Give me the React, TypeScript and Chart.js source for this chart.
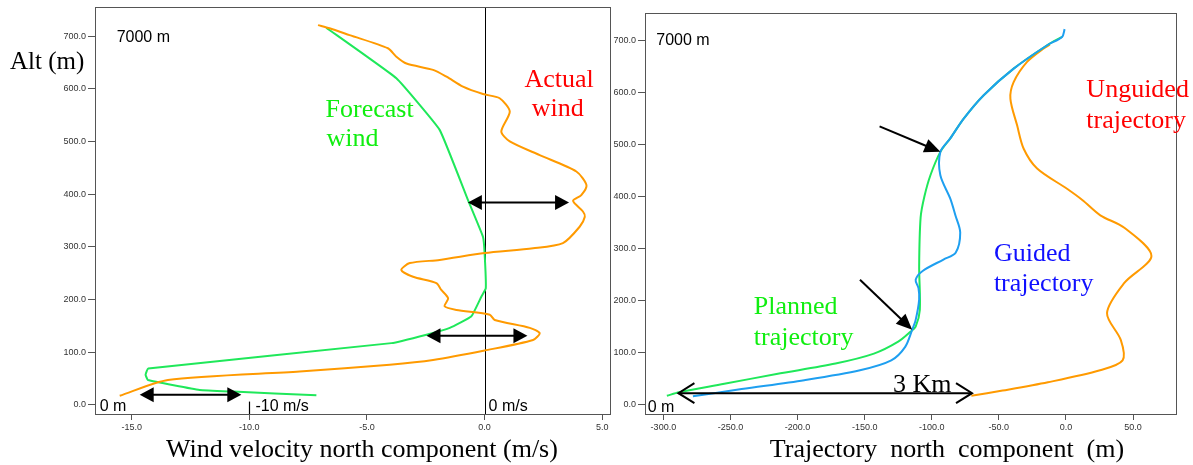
import React, { useEffect, useRef } from "react";
import { Chart, registerables } from "chart.js";

Chart.register(...registerables);

// ---------- data ----------
const ALT_TICKS = [0, 100, 200, 300, 400, 500, 600, 700];
const WIND_X_TICKS = [-15, -10, -5, 0, 5];
const TRAJ_X_TICKS = [-300, -250, -200, -150, -100, -50, 0, 50];

const ACTUAL_WIND_V = [-7.08, -6.59, -5.74, -4.11, -3.75, -3.32, -2.19, -1.62, -0.92, -0.07, 0.64, 1.07, 0.71, 1.07, 2.34, 3.9, 4.33, 4.11, 3.76, 4.18, 4.26, 4.04, 3.33, 2.06, 0.0, -1.91, -3.18, -3.54, -3.04, -2.05, -1.84, -1.55, -1.7, -1.2, 0.22, 0.43, 1.92, 2.34, 2.06, 0.0, -2.19, -4.03, -7.86, -13.46, -15.51];
const ACTUAL_WIND_ALT = [721, 715, 702, 677, 661, 648, 636, 623, 604, 590, 582, 557, 519, 500, 474, 443, 417, 398, 387, 367, 357, 338, 307, 297, 288, 275, 269, 256, 243, 231, 218, 202, 187, 180, 171, 161, 146, 136, 123, 103, 85, 76, 63, 47, 17];

const FORECAST_WIND_V = [-6.73, -3.75, -1.91, -0.71, -0.07, 0.0, 0.05, -0.14, -0.56, -1.48, -2.47, -3.96, -14.3, -14.41, -14.31, -12.11, -10.7, -7.15];
const FORECAST_WIND_ALT = [716, 620, 522, 389, 319, 288, 221, 205, 168, 146, 133, 117, 69, 57, 47, 28, 25, 18];

const PLANNED_N = [-2.9, -14, -39, -61.3, -76.2, -86.2, -93.6, -101, -105.5, -108.3, -109.4, -108.9, -112, -115.9, -125, -143.1, -171.7, -215.7, -254.6, -288.3, -297.4];
const PLANNED_ALT = [707, 691, 646, 595, 550, 512, 486, 441, 400, 360, 266, 182, 150, 140, 121, 98, 79, 59, 40, 24, 17];

const GUIDED_N = [-1, -2.9, -14, -39, -61.3, -76.2, -86.2, -93.6, -93.6, -86.2, -82.4, -78.8, -82.2, -91.3, -106.8, -112, -109.9, -109.4, -112, -114.6, -119.8, -130.2, -153.5, -195, -241.7, -278];
const GUIDED_ALT = [722, 707, 691, 646, 595, 550, 512, 486, 441, 396, 364, 331, 292, 279, 257, 240, 224, 202, 163, 144, 111, 85, 66, 47, 30, 16];

const UNGUIDED_N = [-12, -16.6, -29, -39, -41.4, -36.4, -31.5, -21.5, 0.8, 12.4, 25.6, 43.5, 63.7, 43.5, 30.6, 40.9, 42.2, 25.4, -13.5, -47.2, -70.5];
const UNGUIDED_ALT = [692, 685, 659, 620, 588, 537, 492, 454, 415, 393, 364, 340, 286, 234, 176, 124, 85, 66, 43, 27, 17];

// annotation arrows (data units)
const WIND_ARROW_FROM = [-0.71, -2.47, -14.66];
const WIND_ARROW_TO = [3.59, 1.82, -10.34];
const WIND_ARROW_ALT = [384, 131, 19];
const TRAJ_POINTER_FROM_N = [-138.9, -153.5];
const TRAJ_POINTER_FROM_ALT = [535, 240];
const TRAJ_POINTER_TO_N = [-93.6, -114.6];
const TRAJ_POINTER_TO_ALT = [486, 144];
const TRAJ_SPAN_N = [-288.8, -70];
const TRAJ_SPAN_ALT = 22;

// ---------- styles ----------
const ORANGE = "#ff9a00";
const GREEN = "#1fe85a";
const BLUE = "#1e9ff0";
const SERIF = "'Liberation Serif', 'Times New Roman', serif";
const SANS = "'Liberation Sans', Arial, sans-serif";
const W = 1193;
const H = 465;

type Txt = { t: string; x: number; y: number; color: string; font: string; align?: CanvasTextAlign };

function arrowHead(ctx: CanvasRenderingContext2D, tx: number, ty: number, fx: number, fy: number, len: number, half: number, filled: boolean) {
  const a = Math.atan2(ty - fy, tx - fx);
  const bx = tx - len * Math.cos(a);
  const by = ty - len * Math.sin(a);
  const px = -Math.sin(a) * half;
  const py = Math.cos(a) * half;
  ctx.beginPath();
  if (filled) {
    ctx.moveTo(tx, ty);
    ctx.lineTo(bx + px, by + py);
    ctx.lineTo(bx - px, by - py);
    ctx.closePath();
    ctx.fill();
  } else {
    ctx.moveTo(bx + px, by + py);
    ctx.lineTo(tx, ty);
    ctx.lineTo(bx - px, by - py);
    ctx.stroke();
  }
}

function pts(xs: number[], ys: number[]) {
  return xs.map((x, i) => ({ x, y: ys[i] }));
}

function makeChart(
  canvas: HTMLCanvasElement,
  cfg: {
    series: { xs: number[]; ys: number[]; color: string; tension: number }[];
    xmin: number; xmax: number; ymin: number; ymax: number;
    xticks: number[];
    pad: { left: number; top: number; right: number; bottom: number };
    under?: (ctx: CanvasRenderingContext2D, c: any) => void;
    over: (ctx: CanvasRenderingContext2D, c: any) => void;
  }
) {
  const tickFont = { family: SANS, size: 9 };
  const plugin = {
    id: "extras",
    beforeDatasetsDraw(c: any) {
      if (cfg.under) {
        const ctx = c.ctx;
        ctx.save();
        cfg.under(ctx, c);
        ctx.restore();
      }
    },
    afterDraw(c: any) {
      const ctx = c.ctx;
      const a = c.chartArea;
      ctx.save();
      ctx.strokeStyle = "#555";
      ctx.lineWidth = 1;
      ctx.strokeRect(Math.round(a.left) + 0.5, Math.round(a.top) + 0.5, Math.round(a.right - a.left), Math.round(a.bottom - a.top));
      cfg.over(ctx, c);
      ctx.restore();
    },
  };
  return new Chart(canvas, {
    type: "scatter",
    data: {
      // first series in the list is drawn on top
      datasets: cfg.series.map((s) => ({
        data: pts(s.xs, s.ys),
        showLine: true,
        borderColor: s.color,
        backgroundColor: s.color,
        borderWidth: 2,
        pointRadius: 0,
        tension: s.tension,
        fill: false,
      })),
    },
    options: {
      animation: false,
      responsive: false,
      maintainAspectRatio: false,
      events: [],
      layout: { padding: cfg.pad },
      plugins: { legend: { display: false }, tooltip: { enabled: false }, title: { display: false } },
      scales: {
        x: {
          type: "linear",
          min: cfg.xmin,
          max: cfg.xmax,
          afterBuildTicks: (s: any) => { s.ticks = cfg.xticks.map((v) => ({ value: v })); },
          afterFit: (s: any) => { s.height = 30; },
          grid: { drawOnChartArea: false, drawTicks: true, tickLength: 6, color: "#555" },
          border: { display: false },
          ticks: { font: tickFont, color: "#333", padding: 2, maxRotation: 0, autoSkip: false, callback: (v: any) => Number(v).toFixed(1) },
        },
        y: {
          type: "linear",
          min: cfg.ymin,
          max: cfg.ymax,
          afterBuildTicks: (s: any) => { s.ticks = ALT_TICKS.map((v) => ({ value: v })); },
          afterFit: (s: any) => { s.width = 40; },
          grid: { drawOnChartArea: false, drawTicks: true, tickLength: 7, color: "#555" },
          border: { display: false },
          ticks: { font: tickFont, color: "#333", padding: 2, autoSkip: false, callback: (v: any) => Number(v).toFixed(1) },
        },
      },
    } as any,
    plugins: [plugin],
  });
}

function drawTexts(ctx: CanvasRenderingContext2D, c: any, list: Txt[]) {
  const xs = c.scales.x;
  const ys = c.scales.y;
  ctx.textBaseline = "alphabetic";
  for (const t of list) {
    ctx.font = t.font;
    ctx.fillStyle = t.color;
    ctx.textAlign = t.align || "left";
    ctx.fillText(t.t, xs.getPixelForValue(t.x), ys.getPixelForValue(t.y));
  }
}

export default function App() {
  const leftRef = useRef<HTMLCanvasElement>(null);
  const rightRef = useRef<HTMLCanvasElement>(null);

  useEffect(() => {
    const big = `26px ${SERIF}`;
    const small = `16px ${SANS}`;

    const left = makeChart(leftRef.current!, {
      series: [
        { xs: ACTUAL_WIND_V, ys: ACTUAL_WIND_ALT, color: ORANGE, tension: 0.25 },
        { xs: FORECAST_WIND_V, ys: FORECAST_WIND_ALT, color: GREEN, tension: 0.1 },
      ],
      xmin: -16.56, xmax: 5.33, ymin: -17.6, ymax: 754.6,
      xticks: WIND_X_TICKS,
      pad: { left: 55, top: 7, right: 583, bottom: 21 },
      under: (ctx, c) => {
        const xs = c.scales.x;
        const a = c.chartArea;
        const x0 = Math.round(xs.getPixelForValue(0)) + 0.5;
        ctx.strokeStyle = "#000";
        ctx.lineWidth = 1;
        ctx.beginPath();
        ctx.moveTo(x0, a.top);
        ctx.lineTo(x0, a.bottom);
        ctx.stroke();
      },
      over: (ctx, c) => {
        const xs = c.scales.x;
        const ys = c.scales.y;
        const a = c.chartArea;
        ctx.strokeStyle = "#000";
        ctx.fillStyle = "#000";
        ctx.lineWidth = 2;
        for (let i = 0; i < WIND_ARROW_ALT.length; i++) {
          const x1 = xs.getPixelForValue(WIND_ARROW_FROM[i]);
          const x2 = xs.getPixelForValue(WIND_ARROW_TO[i]);
          const y = ys.getPixelForValue(WIND_ARROW_ALT[i]);
          ctx.beginPath();
          ctx.moveTo(x1 + 8, y);
          ctx.lineTo(x2 - 8, y);
          ctx.stroke();
          arrowHead(ctx, x1, y, x2, y, 14, 7.5, true);
          arrowHead(ctx, x2, y, x1, y, 14, 7.5, true);
        }
        // -10 m/s marker
        const xm = Math.round(xs.getPixelForValue(-10)) + 0.5;
        ctx.lineWidth = 1.2;
        ctx.beginPath();
        ctx.moveTo(xm, ys.getPixelForValue(6));
        ctx.lineTo(xm, a.bottom);
        ctx.stroke();

        drawTexts(ctx, c, [
          { t: "7000 m", x: -15.64, y: 688, color: "#000", font: small },
          { t: "0 m", x: -16.36, y: -12.3, color: "#000", font: small },
          { t: "-10 m/s", x: -9.74, y: -12.3, color: "#000", font: small },
          { t: "0 m/s", x: 0.17, y: -12.3, color: "#000", font: small },
          { t: "Forecast", x: -6.76, y: 547, color: "#10ee10", font: big },
          { t: "wind", x: -6.72, y: 490.5, color: "#10ee10", font: big },
          { t: "Actual", x: 3.17, y: 604, color: "#ff0000", font: big, align: "center" },
          { t: "wind", x: 3.11, y: 549, color: "#ff0000", font: big, align: "center" },
        ]);

        ctx.fillStyle = "#000";
        ctx.textAlign = "left";
        ctx.font = `25px ${SERIF}`;
        ctx.fillText("Alt (m)", 10, 69);
        ctx.textAlign = "center";
        ctx.font = big;
        ctx.fillText("Wind velocity north component (m/s)", 362, 457);
      },
    });

    const right = makeChart(rightRef.current!, {
      series: [
        { xs: GUIDED_N, ys: GUIDED_ALT, color: BLUE, tension: 0.3 },
        { xs: PLANNED_N, ys: PLANNED_ALT, color: GREEN, tension: 0.3 },
        { xs: UNGUIDED_N, ys: UNGUIDED_ALT, color: ORANGE, tension: 0.3 },
      ],
      xmin: -313.7, xmax: 82, ymin: -18, ymax: 753,
      xticks: TRAJ_X_TICKS,
      pad: { left: 605, top: 13, right: 17, bottom: 21 },
      over: (ctx, c) => {
        const xs = c.scales.x;
        const ys = c.scales.y;
        ctx.strokeStyle = "#000";
        ctx.fillStyle = "#000";
        ctx.lineWidth = 2;
        for (let i = 0; i < TRAJ_POINTER_FROM_N.length; i++) {
          const x1 = xs.getPixelForValue(TRAJ_POINTER_FROM_N[i]);
          const y1 = ys.getPixelForValue(TRAJ_POINTER_FROM_ALT[i]);
          const x2 = xs.getPixelForValue(TRAJ_POINTER_TO_N[i]);
          const y2 = ys.getPixelForValue(TRAJ_POINTER_TO_ALT[i]);
          const a = Math.atan2(y2 - y1, x2 - x1);
          ctx.beginPath();
          ctx.moveTo(x1, y1);
          ctx.lineTo(x2 - 10 * Math.cos(a), y2 - 10 * Math.sin(a));
          ctx.stroke();
          arrowHead(ctx, x2, y2, x1, y1, 16, 7, true);
        }
        const sx1 = xs.getPixelForValue(TRAJ_SPAN_N[0]);
        const sx2 = xs.getPixelForValue(TRAJ_SPAN_N[1]);
        const sy = ys.getPixelForValue(TRAJ_SPAN_ALT);
        ctx.beginPath();
        ctx.moveTo(sx1, sy);
        ctx.lineTo(sx2, sy);
        ctx.stroke();
        arrowHead(ctx, sx1, sy, sx2, sy, 16, 10, false);
        arrowHead(ctx, sx2, sy, sx1, sy, 16, 10, false);

        drawTexts(ctx, c, [
          { t: "7000 m", x: -305.3, y: 691, color: "#000", font: small },
          { t: "0 m", x: -311.7, y: -13.8, color: "#000", font: small },
          { t: "Unguided", x: 15.2, y: 591, color: "#ff0000", font: big },
          { t: "trajectory", x: 15.2, y: 531, color: "#ff0000", font: big },
          { t: "Guided", x: -53.7, y: 276.5, color: "#1010ff", font: big },
          { t: "trajectory", x: -53.7, y: 219, color: "#1010ff", font: big },
          { t: "Planned", x: -232.6, y: 173.6, color: "#10ee10", font: big },
          { t: "trajectory", x: -232.6, y: 114, color: "#10ee10", font: big },
          { t: "3 Km", x: -128.9, y: 23.7, color: "#000", font: big },
        ]);

        ctx.fillStyle = "#000";
        ctx.textAlign = "center";
        ctx.font = big;
        ctx.fillText("Trajectory  north  component  (m)", 947, 457);
      },
    });

    return () => {
      left.destroy();
      right.destroy();
    };
  }, []);

  const cv: React.CSSProperties = { position: "absolute", left: 0, top: 0, width: W, height: H };
  return (
    <div style={{ position: "absolute", left: 0, top: 0, width: W, height: H, background: "#fff", overflow: "hidden" }}>
      <canvas ref={leftRef} width={W} height={H} style={cv} />
      <canvas ref={rightRef} width={W} height={H} style={cv} />
    </div>
  );
}
